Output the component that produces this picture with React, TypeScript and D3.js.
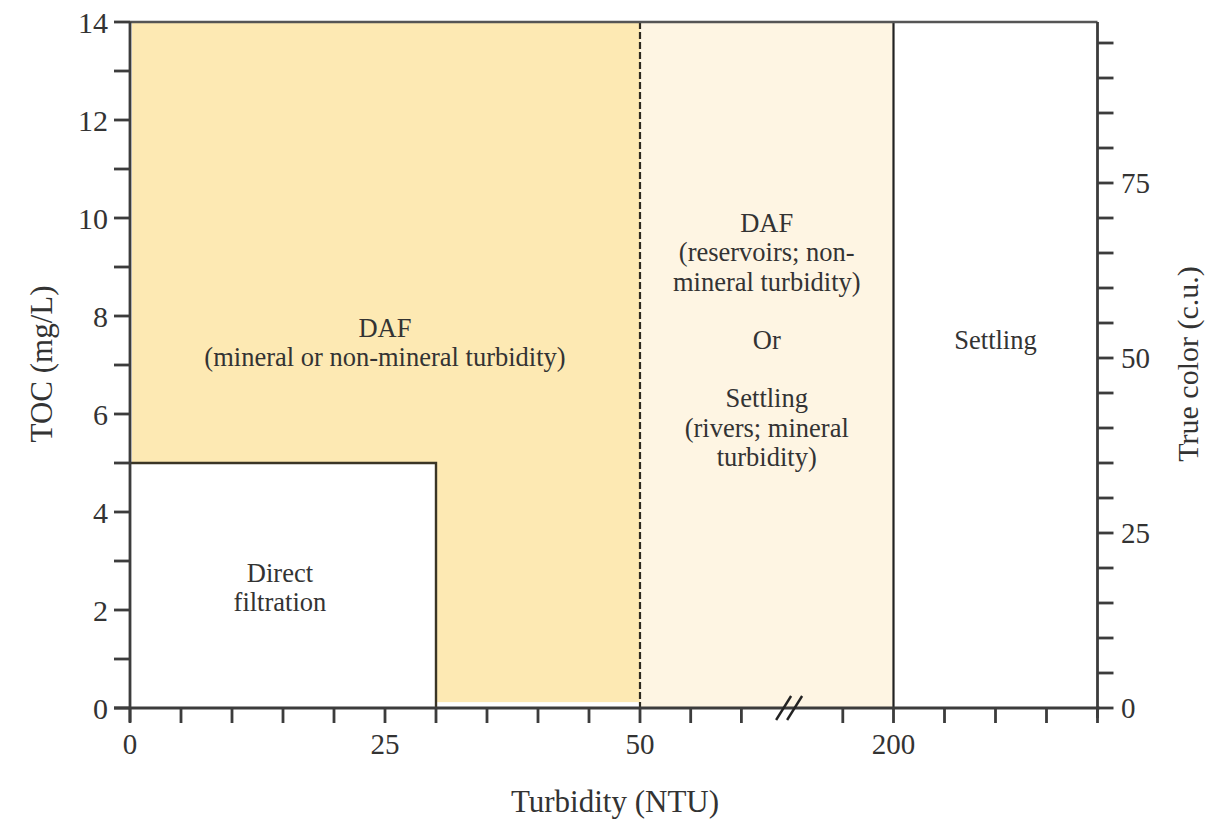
import React from "react";
import * as d3 from "d3";

// ---------- data ----------
const turbidityDomain = [0, 50, 200, 320]; // piecewise axis segments (break between 50 and 200)
const turbidityTicks = [0, 5, 10, 15, 20, 25, 30, 35, 40, 45, 50, 80, 110, 170, 200, 230, 260, 290, 320];
const turbidityLabels = [0, 25, 50, 200];
const tocTicks = [0, 1, 2, 3, 4, 5, 6, 7, 8, 9, 10, 11, 12, 13, 14];
const tocLabels = [0, 2, 4, 6, 8, 10, 12, 14];
const colorTicks = [0, 5, 10, 15, 20, 25, 30, 35, 40, 45, 50, 55, 60, 65, 70, 75, 80, 85, 90, 95];
const colorLabels = [0, 25, 50, 75];
const tocMax = 14;
const colorMax = 98; // 7 c.u. per mg/L TOC

// zone boundaries
const directFiltrationTurbidity = 30;
const directFiltrationTOC = 5;
const dafTurbidity = 50;
const settlingTurbidity = 200;
const dafFillBottom = 0.12;
const breakAt = 140;

// zone labels: lines and [turbidity, TOC of first baseline]
const dafLabel = ["DAF", "(mineral or non-mineral turbidity)"];
const dafLabelPos = [25, 7.57];
const mixedLabel = ["DAF", "(reservoirs; non-", "mineral turbidity)", "", "Or", "", "Settling", "(rivers; mineral", "turbidity)"];
const mixedLabelPos = [125, 9.71];
const settlingLabel = ["Settling"];
const settlingLabelPos = [260, 7.33];
const directLabel = ["Direct", "filtration"];
const directLabelPos = [14.7, 2.57];

// ---------- layout ----------
const W = 1209;
const H = 824;
const left = 130, right = 1097.5, top = 22, bottom = 708;
const FONT = "'Liberation Serif', 'Times New Roman', serif";
const ink = "#333";
const axisInk = "#3c3c3c";
const yellow = "#fde9b3";
const paleYellow = "#fef5e3";

export default function App() {
  const x = d3.scaleLinear().domain(turbidityDomain).range([left, 640, 893.5, right]);
  const y = d3.scaleLinear().domain([0, tocMax]).range([bottom, top]);
  const y2 = d3.scaleLinear().domain([0, colorMax]).range([bottom, top]);

  const lineH = 29.2;
  const block = (lines: string[], pos: number[], key: string) => (
    <text key={key} x={x(pos[0])} y={y(pos[1])} textAnchor="middle" fontFamily={FONT} fontSize={26.5} fill={ink}>
      {lines.map((l, i) => (
        <tspan key={i} x={x(pos[0])} dy={i === 0 ? 0 : lineH}>{l === "" ? "\u00a0" : l}</tspan>
      ))}
    </text>
  );

  const bx = x(breakAt);
  const by = y(0);

  return (
    <svg width={W} height={H} style={{ position: "absolute", left: 0, top: 0, background: "#fff" }}>
      {/* zones */}
      <rect x={x(0) + 2} y={y(tocMax)} width={x(dafTurbidity) - x(0) - 2} height={y(dafFillBottom) - y(tocMax)} fill={yellow} />
      <rect x={x(dafTurbidity)} y={y(tocMax)} width={x(settlingTurbidity) - x(dafTurbidity)} height={y(0) - y(tocMax)} fill={paleYellow} />
      <rect x={x(0)} y={y(directFiltrationTOC)} width={x(directFiltrationTurbidity) - x(0)} height={y(0) - y(directFiltrationTOC)} fill="#fff" />

      {/* zone borders */}
      <path
        d={`M${x(0)},${y(directFiltrationTOC)}H${x(directFiltrationTurbidity)}V${y(0)}`}
        fill="none" stroke="#3a3526" strokeWidth={2.4}
      />
      <line x1={x(dafTurbidity)} x2={x(dafTurbidity)} y1={y(tocMax)} y2={y(0)} stroke="#2e2a20" strokeWidth={2.2} strokeDasharray="7,3" />
      <line x1={x(settlingTurbidity)} x2={x(settlingTurbidity)} y1={y(tocMax)} y2={y(0)} stroke="#222" strokeWidth={2.2} />

      {/* frame */}
      <line x1={left} x2={right} y1={top} y2={top} stroke="#555" strokeWidth={2.6} />
      <line x1={left} x2={left} y1={top} y2={bottom + 14} stroke={axisInk} strokeWidth={2.8} />
      <line x1={right} x2={right} y1={top} y2={bottom + 10} stroke={axisInk} strokeWidth={2.8} />
      <line x1={left - 16} x2={right + 2} y1={bottom} y2={bottom} stroke={axisInk} strokeWidth={2.8} />

      {/* left axis */}
      {tocTicks.map((t) => (
        <line key={"lt" + t} x1={left - 16} x2={left} y1={y(t)} y2={y(t)} stroke={axisInk} strokeWidth={2.8} />
      ))}
      {tocLabels.map((t) => (
        <text key={"ll" + t} x={108} y={y(t)} dy="0.35em" textAnchor="end" fontFamily={FONT} fontSize={30} fill={ink}>{t}</text>
      ))}

      {/* right axis */}
      {colorTicks.map((t) => (
        <line key={"rt" + t} x1={right} x2={right + 16} y1={y2(t)} y2={y2(t)} stroke={axisInk} strokeWidth={2.8} />
      ))}
      {colorLabels.map((t) => (
        <text key={"rl" + t} x={1121} y={y2(t)} dy="0.35em" textAnchor="start" fontFamily={FONT} fontSize={29} fill={ink}>{t}</text>
      ))}

      {/* bottom axis */}
      {turbidityTicks.map((t) => (
        <line key={"bt" + t} x1={x(t)} x2={x(t)} y1={bottom} y2={bottom + 15} stroke={axisInk} strokeWidth={2.8} />
      ))}
      {turbidityLabels.map((t) => (
        <text key={"bl" + t} x={x(t)} y={754} textAnchor="middle" fontFamily={FONT} fontSize={29} fill={ink}>{t}</text>
      ))}

      {/* axis break */}
      <g stroke="#222" strokeWidth={2.4}>
        <line x1={bx - 16} y1={by + 12} x2={bx - 1} y2={by - 12} />
        <line x1={bx - 5} y1={by + 12} x2={bx + 10} y2={by - 12} />
      </g>

      {/* axis titles */}
      <text x={615} y={812} textAnchor="middle" fontFamily={FONT} fontSize={31} fill={ink}>Turbidity (NTU)</text>
      <text transform={`translate(52,${364}) rotate(-90)`} textAnchor="middle" fontFamily={FONT} fontSize={31} fill={ink}>TOC (mg/L)</text>
      <text transform={`translate(1198,${364}) rotate(-90)`} textAnchor="middle" fontFamily={FONT} fontSize={30} fill={ink}>True color (c.u.)</text>

      {/* zone labels */}
      {block(dafLabel, dafLabelPos, "daf")}
      {block(mixedLabel, mixedLabelPos, "mixed")}
      {block(settlingLabel, settlingLabelPos, "settle")}
      {block(directLabel, directLabelPos, "direct")}
    </svg>
  );
}
